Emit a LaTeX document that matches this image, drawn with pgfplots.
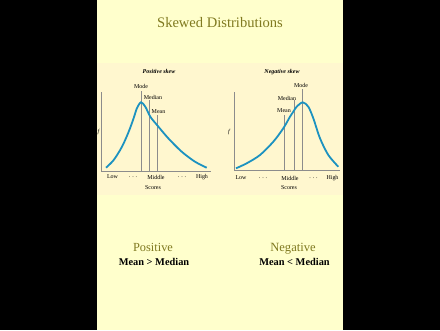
\documentclass[border=0pt]{standalone}
\usepackage{pgfplots}
\pgfplotsset{compat=1.18}
\usepackage{fontspec}
\setmainfont{Liberation Serif}
\definecolor{panel}{RGB}{255,255,204}
\definecolor{chartbg}{RGB}{255,247,207}
\definecolor{olive}{RGB}{128,122,32}
\definecolor{curve}{RGB}{28,146,192}
\definecolor{lgray}{RGB}{140,140,140}
\tikzset{lab/.style={font=\fontsize{6}{7}\selectfont,inner sep=0pt}}
\begin{document}
\begin{tikzpicture}[x=1bp,y=1bp]
\fill[black] (0,0) rectangle (440,330);
\fill[panel] (96.5,0) rectangle (343,330);
\fill[chartbg] (96.5,135) rectangle (343,267);
\node[olive,font=\fontsize{14.6}{16}\selectfont] at (220,307) {Skewed Distributions};
\node[olive,anchor=base,font=\fontsize{12.4}{14}\selectfont] at (153,79) {Positive};
\node[olive,anchor=base,font=\fontsize{12.6}{14}\selectfont] at (293,79) {Negative};
\node[anchor=base,font=\bfseries\fontsize{10.4}{12}\selectfont] at (154,64.5) {Mean > Median};
\node[anchor=base,font=\bfseries\fontsize{10.4}{12}\selectfont] at (294.5,64.5) {Mean < Median};
% left chart
\begin{axis}[x=1bp,y=1bp,anchor=south west,at={(101bp,158.5bp)},
  xmin=0,xmax=110,ymin=0,ymax=79.5,
  axis x line=bottom,axis y line=left,axis line style={-,lgray,line width=0.5bp},
  xtick=\empty,ytick=\empty,clip=false]
\addplot[lgray,line width=0.5bp] coordinates {(40,0) (40,80.5)};
\addplot[lgray,line width=0.5bp] coordinates {(48,0) (48,71.5)};
\addplot[lgray,line width=0.5bp] coordinates {(56,0) (56,56.5)};
\addplot[curve,line width=1.8bp,smooth] coordinates {
(5,3.8) (12.7,11.5) (21,24.8) (27.7,39.8) (32.7,53.5) (36,63.5) (40,69.2)
(44.3,64.8) (49.3,54.8) (56,46.5) (67.3,33.2) (80.7,19.8) (94,9.8) (105.7,3.8)};
\node[lab] at (axis cs:40,85.5) {Mode};
\node[lab] at (axis cs:52,74.5) {Median};
\node[lab] at (axis cs:57.5,59.5) {Mean};
\node[lab,font=\bfseries\itshape\fontsize{6}{7}\selectfont] at (axis cs:58,100.5) {Positive skew};
\node[lab] at (axis cs:11.5,-5.5) {Low};
\node[lab] at (axis cs:32,-5.5) {. . .};
\node[lab] at (axis cs:55,-5.5) {Middle};
\node[lab] at (axis cs:81,-5.5) {. . .};
\node[lab] at (axis cs:101,-5.5) {High};
\node[lab] at (axis cs:52,-16.5) {Scores};
\node[lab,font=\itshape\fontsize{6}{7}\selectfont] at (axis cs:-2.5,39.5) {f};
\end{axis}
% right chart
\begin{axis}[x=1bp,y=1bp,anchor=south west,at={(234bp,160bp)},
  xmin=0,xmax=106,ymin=0,ymax=78,
  axis x line=bottom,axis y line=left,axis line style={-,lgray,line width=0.5bp},
  xtick=\empty,ytick=\empty,clip=false]
\addplot[lgray,line width=0.5bp] coordinates {(68,0) (68,81)};
\addplot[lgray,line width=0.5bp] coordinates {(60,0) (60,70)};
\addplot[lgray,line width=0.5bp] coordinates {(50.5,0) (50.5,55)};
\addplot[curve,line width=1.8bp,smooth] coordinates {
(2,1.7) (12.7,6.7) (26,15) (39.3,28.3) (49.3,41.7) (56,53.3) (59.3,58.3)
(62.7,63.3) (68.7,67.7) (74.3,63.3) (79.3,51.7) (86,31.7) (94.3,15) (104.3,3.3)};
\node[lab] at (axis cs:67,85) {Mode};
\node[lab] at (axis cs:53,72) {Median};
\node[lab] at (axis cs:50,59) {Mean};
\node[lab,font=\bfseries\itshape\fontsize{6}{7}\selectfont] at (axis cs:48,98) {Negative skew};
\node[lab] at (axis cs:7,-8) {Low};
\node[lab] at (axis cs:29,-8) {. . .};
\node[lab] at (axis cs:56,-8) {Middle};
\node[lab] at (axis cs:79.5,-8) {. . .};
\node[lab] at (axis cs:98.5,-8) {High};
\node[lab] at (axis cs:55,-18) {Scores};
\node[lab,font=\itshape\fontsize{6}{7}\selectfont] at (axis cs:-5,38) {f};
\end{axis}
\end{tikzpicture}
\end{document}
